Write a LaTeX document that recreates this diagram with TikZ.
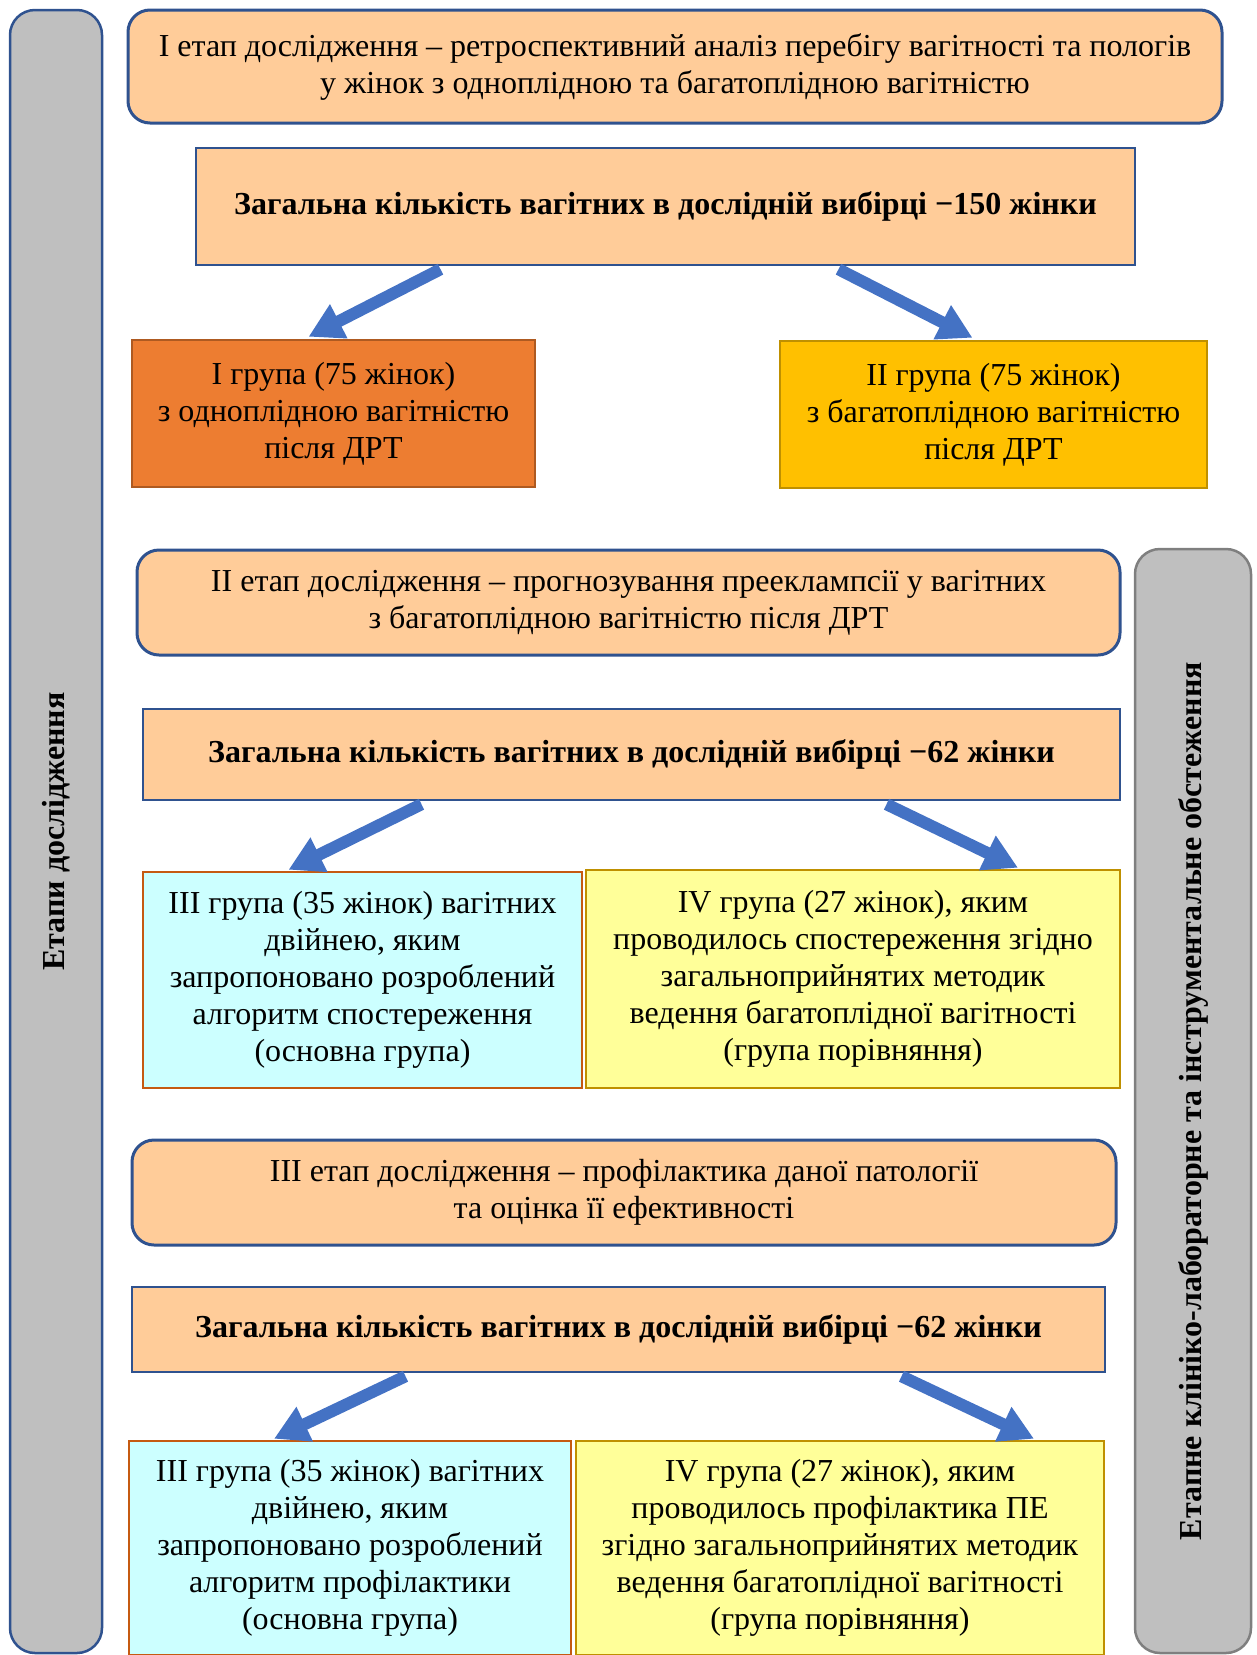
\documentclass[tikz,border=0pt]{standalone}
\usepackage{fontspec}
\setmainfont{Liberation Serif}
\usetikzlibrary{arrows.meta}
\definecolor{peach}{HTML}{FFCC99}
\definecolor{bord}{HTML}{2F528F}
\definecolor{grayfill}{HTML}{BFBFBF}
\definecolor{grayline}{HTML}{7F7F7F}
\definecolor{orfill}{HTML}{ED7D31}
\definecolor{orline}{HTML}{AE5A21}
\definecolor{goldfill}{HTML}{FFC000}
\definecolor{goldline}{HTML}{BF9000}
\definecolor{cyanfill}{HTML}{CCFFFF}
\definecolor{brownline}{HTML}{C55A11}
\definecolor{yelfill}{HTML}{FFFF99}
\definecolor{arrowblue}{HTML}{4472C4}
\tikzset{
  txt/.style={font=\fontsize{32}{37}\selectfont, align=center, inner sep=0pt, text=black},
  stagebox/.style={txt, fill=peach, draw=bord, line width=3pt, rounded corners=22pt},
  countbox/.style={txt, fill=peach, draw=bord, line width=2.5pt, font=\fontsize{32}{37}\selectfont\bfseries},
  grpone/.style={txt, fill=orfill, draw=orline, line width=2.5pt},
  grptwo/.style={txt, fill=goldfill, draw=goldline, line width=2.5pt},
  grpthree/.style={txt, fill=cyanfill, draw=brownline, line width=2.5pt},
  grpfour/.style={txt, fill=yelfill, draw=goldline, line width=2.5pt},
  sidebar/.style={fill=grayfill, line width=2.5pt, rounded corners=25pt, inner sep=0pt},
  sidetext/.style={font=\fontsize{32}{37}\selectfont\bfseries, rotate=90, inner sep=0pt},
  bigarrow/.style={draw=arrowblue, line width=12pt, -{Triangle[length=34pt,width=36pt]}}
}
\begin{document}
\begin{tikzpicture}[x=1pt,y=-1pt]
\useasboundingbox (0,0) rectangle (1257,1655);
\clip (0,0) rectangle (1257,1655);
% side bars
\node[sidebar, draw=bord, minimum width=92pt, minimum height=1643pt] (leftbar) at (56,831.5) {};
\node[sidetext] (lefttext) at (leftbar.center) {Етапи дослідження};
\node[sidebar, draw=grayline, minimum width=116pt, minimum height=1104pt] (rightbar) at (1193,1101) {};
\node[sidetext] (righttext) at (rightbar.center) {Етапне клініко-лабораторне та інструментальне обстеження};
% stage I
\node[stagebox, minimum width=1094pt, minimum height=113pt] (st1) at (675,66.5)
 {І етап дослідження – ретроспективний аналіз перебігу вагітності та пологів\\у жінок з одноплідною та багатоплідною вагітністю};
\node[countbox, minimum width=939pt, minimum height=117pt] (b150) at (665.5,206.5)
 {Загальна кількість вагітних в дослідній вибірці −150 жінки};
\node[grpone, minimum width=403pt, minimum height=147pt] (g1) at (333.5,413.5)
 {І група (75 жінок)\\з одноплідною вагітністю\\після ДРТ};
\node[grptwo, minimum width=427pt, minimum height=147pt] (g2) at (993.5,414.5)
 {ІІ група (75 жінок)\\з багатоплідною вагітністю\\після ДРТ};
% stage II
\node[stagebox, minimum width=983pt, minimum height=105pt] (st2) at (628.5,602.5)
 {ІІ етап дослідження – прогнозування прееклампсії у вагітних\\з багатоплідною вагітністю після ДРТ};
\node[countbox, minimum width=977pt, minimum height=91pt] (b62a) at (631.5,754.5)
 {Загальна кількість вагітних в дослідній вибірці −62 жінки};
\node[grpthree, minimum width=439pt, minimum height=216pt] (g3) at (362.5,980)
 {ІІІ група (35 жінок) вагітних\\двійнею, яким\\запропоновано розроблений\\алгоритм спостереження\\(основна група)};
\node[grpfour, minimum width=534pt, minimum height=218pt] (g4) at (853,979)
 {IV група (27 жінок), яким\\проводилось спостереження згідно\\загальноприйнятих методик\\ведення багатоплідної вагітності\\(група порівняння)};
% stage III
\node[stagebox, minimum width=984pt, minimum height=105pt] (st3) at (624,1192.5)
 {ІІІ етап дослідження – профілактика даної патології\\та оцінка її ефективності};
\node[countbox, minimum width=973pt, minimum height=85pt] (b62b) at (618.5,1329.5)
 {Загальна кількість вагітних в дослідній вибірці −62 жінки};
\node[grpthree, minimum width=442pt, minimum height=214pt] (g3b) at (350,1548)
 {ІІІ група (35 жінок) вагітних\\двійнею, яким\\запропоновано розроблений\\алгоритм профілактики\\(основна група)};
\node[grpfour, minimum width=528pt, minimum height=214pt] (g4b) at (840,1548)
 {IV група (27 жінок), яким\\проводилось профілактика ПЕ\\згідно загальноприйнятих методик\\ведення багатоплідної вагітності\\(група порівняння)};
% arrows
\draw[bigarrow] ([xshift=-225pt,yshift=-3pt]b150.south) -- ([xshift=-25pt,yshift=2pt]g1.north);
\draw[bigarrow] ([xshift=173pt,yshift=-3pt]b150.south) -- ([xshift=-21pt,yshift=2pt]g2.north);
\draw[bigarrow] ([xshift=-210pt,yshift=-3pt]b62a.south) -- ([xshift=-74pt,yshift=1pt]g3.north);
\draw[bigarrow] ([xshift=255pt,yshift=-3pt]b62a.south) -- ([xshift=165pt,yshift=1pt]g4.north);
\draw[bigarrow] ([xshift=-213pt,yshift=-3pt]b62b.south) -- ([xshift=-76pt,yshift=1pt]g3b.north);
\draw[bigarrow] ([xshift=283pt,yshift=-3pt]b62b.south) -- ([xshift=194pt,yshift=1pt]g4b.north);
\end{tikzpicture}
\end{document}
